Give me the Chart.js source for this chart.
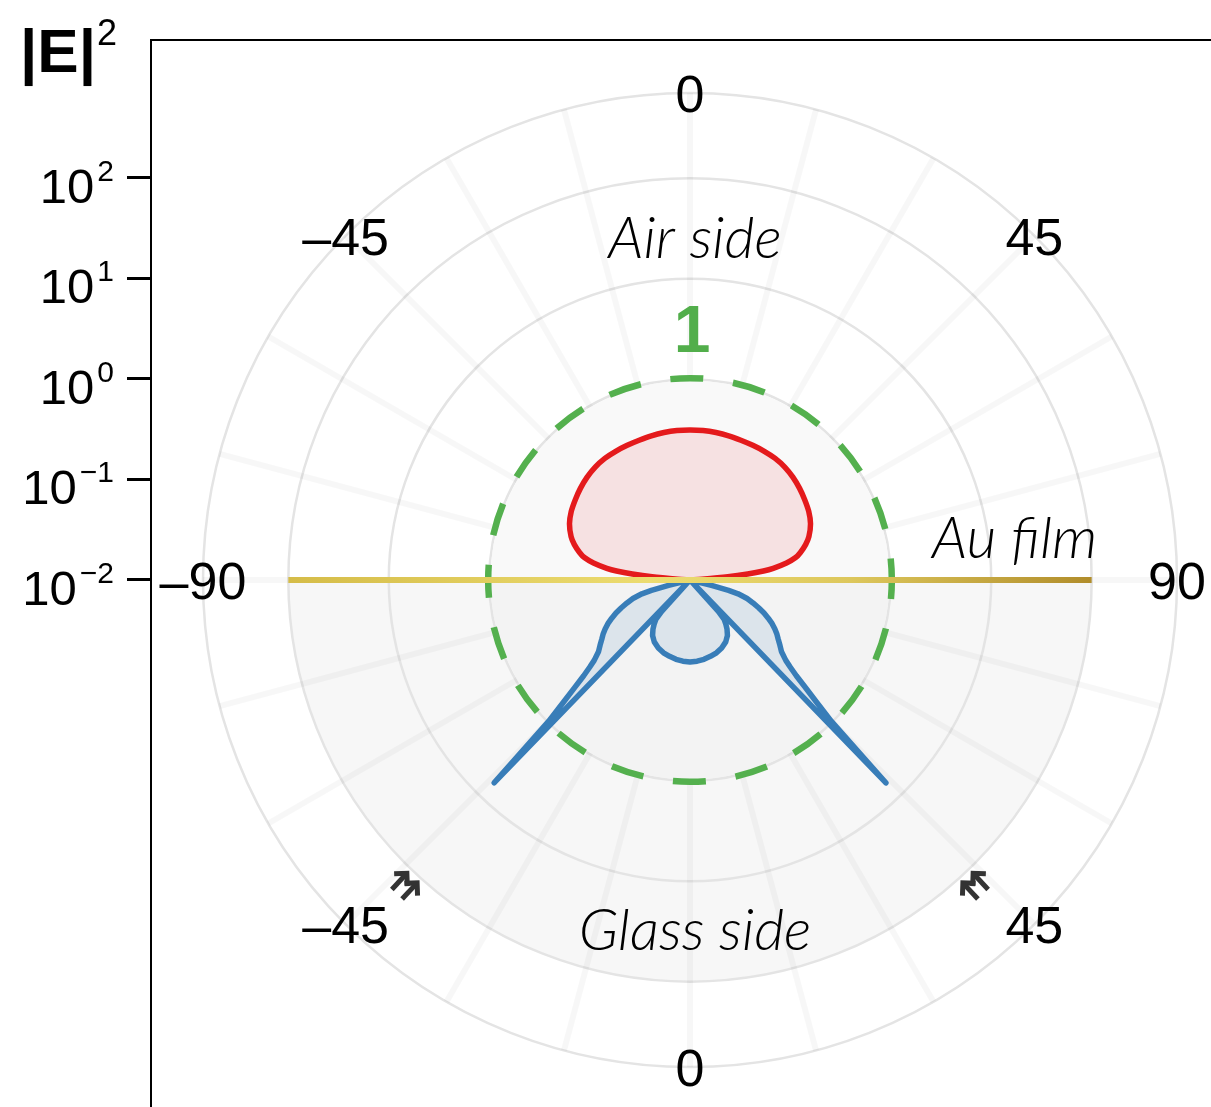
<!DOCTYPE html>
<html>
<head>
<meta charset="utf-8">
<script src="https://cdn.jsdelivr.net/npm/chart.js@4.4.1/dist/chart.umd.min.js"></script>
<style>
  html, body { margin: 0; padding: 0; background: #fff; }
  #wrap { position: relative; width: 1211px; height: 1107px; overflow: hidden; background: #fff; }
  #wrap canvas { position: absolute; left: 0; top: 0; }
</style>
</head>
<body>
<div id="wrap">
  <canvas id="axisChart" width="1211" height="1107"></canvas>
  <canvas id="polarChart" width="1211" height="1107"></canvas>
</div>
<script>
// Angular |E|^2 pattern around a thin Au film: air side on top, glass side below.
// Angles are degrees from the film normal on each side; field values are |E|^2.

const airAngles = [-88, -86, -85, -84, -83, -82, -80, -78, -76, -73, -70, -65, -60, -55, -50, -45, -40, -35, -30, -25, -20, -15, -10, -5,
  0, 5, 10, 15, 20, 25, 30, 35, 40, 45, 50, 55, 60, 65, 70, 73, 76, 78, 80, 82, 83, 84, 85, 86, 88];
const airField = [0.01, 0.0132, 0.0239, 0.0378, 0.0546, 0.0687, 0.0946, 0.119, 0.136, 0.160, 0.182, 0.211, 0.232, 0.248, 0.265, 0.281, 0.294, 0.301, 0.302, 0.302, 0.303, 0.307, 0.310, 0.312,
  0.312, 0.312, 0.310, 0.307, 0.303, 0.302, 0.302, 0.301, 0.294, 0.281, 0.265, 0.248, 0.232, 0.211, 0.182, 0.160, 0.136, 0.119, 0.0946, 0.0687, 0.0546, 0.0378, 0.0239, 0.0132, 0.01];

const glassAngles = [-77, -76, -75, -74, -72, -70, -68, -66, -64, -62, -60, -58, -56, -54, -52, -50, -49, -48, -47, -46, -45, -44, -43, -42, -41, -39, -37, -34, -30, -25, -20, -15, -10, -5,
  0, 5, 10, 15, 20, 25, 30, 34, 37, 39, 41, 42, 43, 44, 45, 46, 47, 48, 49, 50, 52, 54, 56, 58, 60, 62, 64, 66, 68, 70, 72, 74, 75, 76, 77];
const glassField = [0.01, 0.0166, 0.0250, 0.0315, 0.0396, 0.0465, 0.0546, 0.0641, 0.0736, 0.0844, 0.0946, 0.105, 0.115, 0.128, 0.143, 0.176, 0.211, 0.266, 0.375, 0.566, 0.982, 6.44, 0.01, 0.0262, 0.0330, 0.0370, 0.0410, 0.0464, 0.0515, 0.0558, 0.0591, 0.0612, 0.0634, 0.0648,
  0.0656, 0.0648, 0.0634, 0.0612, 0.0591, 0.0558, 0.0515, 0.0464, 0.0410, 0.0370, 0.0330, 0.0262, 0.01, 6.44, 0.982, 0.566, 0.375, 0.266, 0.211, 0.176, 0.143, 0.128, 0.115, 0.105, 0.0946, 0.0844, 0.0736, 0.0641, 0.0546, 0.0465, 0.0396, 0.0315, 0.0250, 0.0166, 0.01];

// radial grid
const ringLevels = [1, 10, 100];          // |E|^2 circles
const poleLevel = 0.01;                   // value at the pole
const rimExponent = 2.85;                 // log10 of the outer rim
const referenceLevel = 1;                 // dashed |E|^2 = 1 circle
const filmLevel = 100;                    // Au film drawn out to this circle
const glassBandLevel = 100;               // shaded glass half-space extent
const resonanceMarks = [-43, 43];         // arrows on the glass side (deg)

// angular tick labels, placed clockwise from the top
const angleTickPositions = [0, 45, 90, 135, 180, 225, 270, 315];
const angleTickLabels = ['0', '45', '90', '45', '0', '\u201345', '\u201390', '\u201345'];

// left |E|^2 axis
const axisTickValues = [0.01, 0.1, 1, 10, 100];
const axisTickExponents = [-2, -1, 0, 1, 2];

const LOG_MIN = Math.log10(poleLevel);
const LOG_MAX = rimExponent;

function radarSeries(angles, field, toClockwise) {
  const out = new Array(360).fill(null);
  angles.forEach((a, k) => {
    const d = ((Math.round(toClockwise(a)) % 360) + 360) % 360;
    out[d] = Math.max(LOG_MIN, Math.log10(field[k]));
  });
  return out;
}

const FONT = '"Liberation Sans", Arial, Helvetica, sans-serif';
const ITALIC = 'Lato, "Open Sans", sans-serif';

// ---------- polar pattern ----------
const polarDecor = {
  id: 'polarDecor',
  beforeDraw(chart) {
    const s = chart.scales.r, ctx = chart.ctx;
    const R = s.getDistanceFromCenterForValue(Math.log10(glassBandLevel));
    ctx.save();
    ctx.fillStyle = '#f7f7f7';
    ctx.beginPath();
    ctx.moveTo(s.xCenter + R, s.yCenter);
    ctx.arc(s.xCenter, s.yCenter, R, 0, Math.PI);
    ctx.closePath();
    ctx.fill();
    ctx.restore();
  },
  beforeDatasetsDraw(chart) {
    const s = chart.scales.r, ctx = chart.ctx;
    const r1 = s.getDistanceFromCenterForValue(Math.log10(referenceLevel));
    const rin = r1 - 1.3;
    ctx.save();
    ctx.fillStyle = '#f9f9f9';
    ctx.beginPath();
    ctx.arc(s.xCenter, s.yCenter, rin, Math.PI, 2 * Math.PI);
    ctx.closePath();
    ctx.fill();
    ctx.fillStyle = '#f3f3f3';
    ctx.beginPath();
    ctx.arc(s.xCenter, s.yCenter, rin, 0, Math.PI);
    ctx.closePath();
    ctx.fill();
    // |E|^2 = 1 reference circle
    ctx.strokeStyle = '#54b04e';
    ctx.lineWidth = 6.5;
    ctx.setLineDash([33, 30]);
    ctx.lineDashOffset = 14;
    ctx.beginPath();
    ctx.arc(s.xCenter, s.yCenter, r1 + 1, 0, 2 * Math.PI);
    ctx.stroke();
    ctx.restore();
  },
  afterDatasetsDraw(chart) {
    const s = chart.scales.r, ctx = chart.ctx;
    const rf = s.getDistanceFromCenterForValue(Math.log10(filmLevel));
    const pL = s.getPointPosition(270, rf), pR = s.getPointPosition(90, rf);
    ctx.save();
    const g = ctx.createLinearGradient(pL.x, 0, pR.x, 0);
    g.addColorStop(0, '#d5bc48');
    g.addColorStop(0.45, '#ecdc70');
    g.addColorStop(0.7, '#ddc75c');
    g.addColorStop(1, '#b18d2b');
    ctx.strokeStyle = g;
    ctx.lineWidth = 6;
    ctx.beginPath();
    ctx.moveTo(pL.x, pL.y);
    ctx.lineTo(pR.x, pR.y);
    ctx.stroke();

    // resonance arrows just outside the shaded glass band
    const ra = s.getDistanceFromCenterForValue(Math.log10(glassBandLevel)) + 17;
    resonanceMarks.forEach(a => {
      const p = s.getPointPosition(180 - a, ra);
      const dx = s.xCenter - p.x, dy = s.yCenter - p.y, L = Math.hypot(dx, dy);
      drawDoubleArrow(ctx, p.x, p.y, dx / L, dy / L);
    });
    ctx.restore();
  },
  afterDraw(chart) {
    const s = chart.scales.r, ctx = chart.ctx;
    const rim = s.getDistanceFromCenterForValue(LOG_MAX);
    ctx.save();
    ctx.fillStyle = '#000';
    ctx.font = '52px ' + FONT;
    ctx.textAlign = 'center';
    ctx.textBaseline = 'alphabetic';
    angleTickPositions.forEach((deg, i) => {
      const p = s.getPointPosition(deg, rim);
      ctx.fillText(angleTickLabels[i], p.x, p.y + 19);
    });

    ctx.font = 'italic 300 58px ' + ITALIC;
    ctx.fillText('Air side', s.xCenter + 5, s.yCenter - 322);
    ctx.fillText('Glass side', s.xCenter + 5, s.yCenter + 370);
    ctx.textAlign = 'left';
    ctx.fillText('Au film', s.xCenter + 242, s.yCenter - 22);

    const r1 = s.getDistanceFromCenterForValue(Math.log10(referenceLevel));
    ctx.textAlign = 'center';
    ctx.fillStyle = '#52ae4b';
    ctx.font = 'bold 66px ' + FONT;
    ctx.fillText('1', s.xCenter + 2, s.yCenter - r1 - 27);
    ctx.restore();
  }
};

function drawDoubleArrow(ctx, px, py, ux, uy) {
  const nx = -uy, ny = ux;
  ctx.save();
  ctx.strokeStyle = '#333';
  ctx.lineWidth = 5;
  ctx.lineCap = 'butt';
  ctx.lineJoin = 'miter';
  [-7, 7].forEach(off => {
    const cx = px + nx * off, cy = py + ny * off;
    const tx = cx + ux * 11, ty = cy + uy * 11;
    ctx.beginPath();
    ctx.moveTo(cx - ux * 11, cy - uy * 11);
    ctx.lineTo(tx - ux * 3, ty - uy * 3);
    ctx.stroke();
    const hx = tx - ux * 9, hy = ty - uy * 9;
    ctx.beginPath();
    ctx.moveTo(hx + nx * 9, hy + ny * 9);
    ctx.lineTo(tx, ty);
    ctx.lineTo(hx - nx * 9, hy - ny * 9);
    ctx.stroke();
  });
  ctx.restore();
}

const polarChart = new Chart(document.getElementById('polarChart'), {
  type: 'radar',
  data: {
    labels: Array.from({ length: 360 }, (_, i) => i),
    datasets: [
      {
        label: 'Air side',
        data: radarSeries(airAngles, airField, a => a),
        borderColor: '#e41a1c',
        backgroundColor: '#f6e1e2',
        borderWidth: 5.5,
        fill: 'start',
        spanGaps: true,
        tension: 0.3,
        pointRadius: 0,
        pointHoverRadius: 0,
        borderJoinStyle: 'round'
      },
      {
        label: 'Glass side',
        data: radarSeries(glassAngles, glassField, a => 180 - a),
        borderColor: '#387db8',
        backgroundColor: 'rgba(56,125,184,0.12)',
        borderWidth: 5.5,
        fill: 'start',
        spanGaps: true,
        tension: 0,
        pointRadius: 0,
        pointHoverRadius: 0,
        borderJoinStyle: 'round'
      }
    ]
  },
  options: {
    responsive: false,
    animation: false,
    devicePixelRatio: 1,
    events: [],
    layout: { padding: { left: 203, top: 93, right: 34, bottom: 40 } },
    plugins: { legend: { display: false }, tooltip: { enabled: false } },
    scales: {
      r: {
        min: LOG_MIN,
        max: LOG_MAX,
        ticks: { display: false },
        pointLabels: { display: false },
        afterBuildTicks: sc => {
          sc.ticks = ringLevels.map(v => ({ value: Math.log10(v) })).concat([{ value: LOG_MAX }]);
        },
        grid: { circular: true, color: '#e4e4e4', lineWidth: 2.5 },
        angleLines: {
          color: c => (c.index % 15 === 0 ? 'rgba(0,0,0,0.03)' : 'rgba(0,0,0,0)'),
          lineWidth: c => (c.index % 15 === 0 ? 6 : 0)
        }
      }
    }
  },
  plugins: [polarDecor]
});

// ---------- left |E|^2 axis ----------
const axisDecor = {
  id: 'axisDecor',
  afterDraw(chart) {
    const y = chart.scales.y, ctx = chart.ctx;
    ctx.save();
    ctx.fillStyle = '#000';
    ctx.textBaseline = 'alphabetic';
    ctx.textAlign = 'left';
    axisTickValues.forEach((v, i) => {
      const py = y.getPixelForValue(v);
      const e = axisTickExponents[i];
      const sup = e < 0 ? '\u2212' + (-e) : String(e);
      ctx.font = '30px ' + FONT;
      const ws = ctx.measureText(sup).width;
      ctx.font = '49px ' + FONT;
      const wb = ctx.measureText('10').width;
      const xs = 114 - ws;
      const xb = xs - 3 - wb;
      ctx.fillText('10', xb, py + 25);
      ctx.font = '30px ' + FONT;
      ctx.fillText(sup, xs, py + 3);
    });
    // axis title |E|^2
    ctx.font = 'bold 62px ' + FONT;
    ctx.fillText('|E|', 20, 72);
    const wt = ctx.measureText('|E|').width;
    ctx.font = '36px ' + FONT;
    ctx.fillText('2', 20 + wt + 1, 45);
    ctx.restore();
  }
};

const axisChart = new Chart(document.getElementById('axisChart'), {
  type: 'scatter',
  data: { datasets: [] },
  options: {
    responsive: false,
    animation: false,
    devicePixelRatio: 1,
    events: [],
    layout: { padding: 0 },
    plugins: { legend: { display: false }, tooltip: { enabled: false } },
    scales: {
      x: {
        type: 'linear',
        position: 'top',
        min: 0,
        max: 1,
        ticks: { display: false },
        grid: { display: false, drawTicks: false },
        border: { display: true, color: '#000', width: 2 },
        afterFit: sc => { sc.height = 40; }
      },
      y: {
        type: 'logarithmic',
        position: 'left',
        min: Math.pow(10, -7.244),
        max: Math.pow(10, 3.373),
        afterBuildTicks: sc => { sc.ticks = axisTickValues.map(v => ({ value: v })); },
        ticks: { display: false, autoSkip: false },
        grid: { display: true, drawOnChartArea: false, drawTicks: true, tickLength: 24, tickWidth: 3, tickColor: '#000', color: '#000' },
        border: { display: true, color: '#000', width: 2 },
        afterFit: sc => { sc.width = 151; }
      }
    }
  },
  plugins: [axisDecor]
});
</script>
</body>
</html>
